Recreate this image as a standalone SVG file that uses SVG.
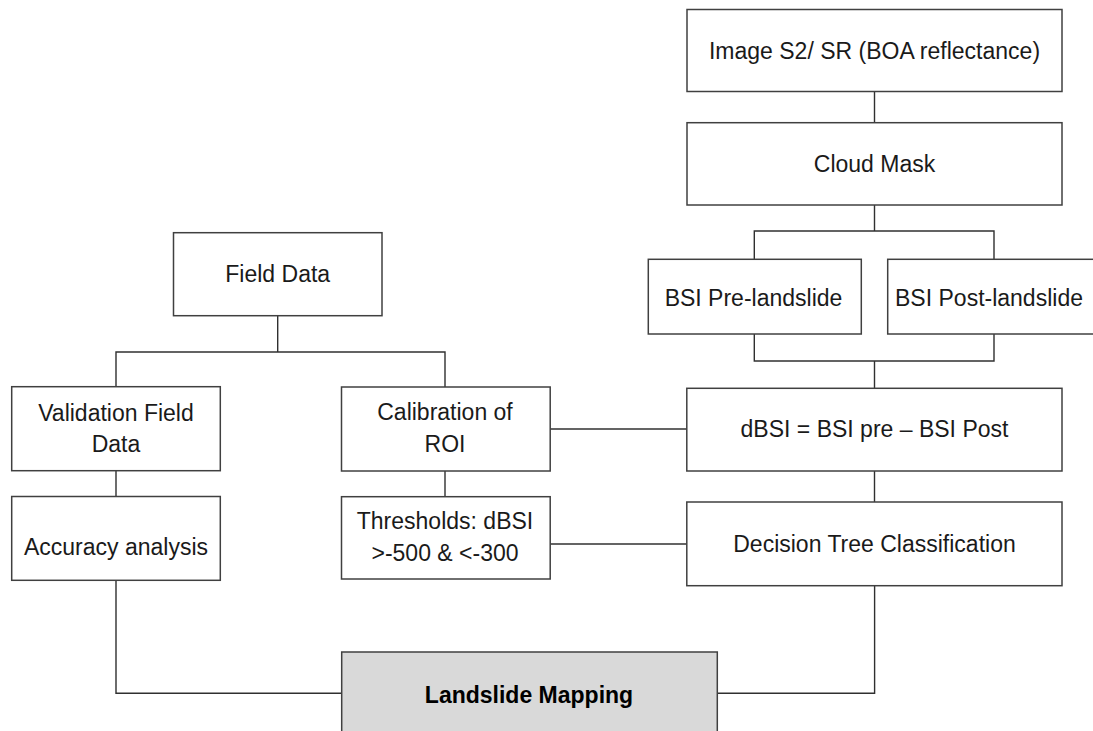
<svg xmlns="http://www.w3.org/2000/svg" width="1093" height="731" viewBox="0 0 1093 731">
<style>
.box{fill:#ffffff;stroke:#404040;stroke-width:1.5}
.hl{fill:#d9d9d9;stroke:#404040;stroke-width:1.5}
.t{font-family:"Liberation Sans",Arial,sans-serif;font-size:23px;fill:#1a1a1a;text-anchor:middle}
.b{font-weight:bold;fill:#000}
.c{fill:none;stroke:#303030;stroke-width:1.4}
</style>
<rect width="1093" height="731" fill="#ffffff"/>
<g id="connectors">
<path class="c" d="M874.5,92 V122.7"/>
<path class="c" d="M874.5,205 V231 M754.3,259.3 V231 H994 V259.3"/>
<path class="c" d="M754.3,334 V361 H994 V334 M874.5,361 V388.3"/>
<path class="c" d="M277.7,316 V352 M116,386.7 V352 H445 V387"/>
<path class="c" d="M116,471 V496.5"/>
<path class="c" d="M445,471 V496.7"/>
<path class="c" d="M550.2,429 H686.8"/>
<path class="c" d="M550.2,544 H686.8"/>
<path class="c" d="M874.5,471 V502"/>
<path class="c" d="M116,580.3 V693.3 H341.7"/>
<path class="c" d="M717.3,693.3 H874.6 V585.7"/>
</g>
<g id="image-s2">
<rect class="box" x="687" y="9.5" width="375" height="82"/>
<text class="t" x="874.5" y="59">Image S2/ SR (BOA reflectance)</text>
</g>
<g id="cloud-mask">
<rect class="box" x="687" y="122.7" width="375" height="82.3"/>
<text class="t" x="874.5" y="171.7">Cloud Mask</text>
</g>
<g id="bsi-pre">
<rect class="box" x="648.3" y="259.3" width="213" height="74.7"/>
<text class="t" x="753.5" y="305.7">BSI Pre-landslide</text>
</g>
<g id="bsi-post">
<rect class="box" x="887.7" y="259.3" width="220" height="74.7"/>
<text class="t" x="989" y="305.7">BSI Post-landslide</text>
</g>
<g id="field-data">
<rect class="box" x="173.5" y="232.7" width="208.5" height="83"/>
<text class="t" x="277.7" y="282">Field Data</text>
</g>
<g id="validation">
<rect class="box" x="11.7" y="386.7" width="208.6" height="84"/>
<text class="t" x="116" y="420.7">Validation Field</text>
<text class="t" x="116" y="451.7">Data</text>
</g>
<g id="calibration">
<rect class="box" x="341.5" y="387" width="208.7" height="84"/>
<text class="t" x="445" y="420">Calibration of</text>
<text class="t" x="445" y="451.7">ROI</text>
</g>
<g id="dbsi">
<rect class="box" x="686.8" y="388.3" width="375.2" height="82.7"/>
<text class="t" x="874.5" y="437">dBSI = BSI pre – BSI Post</text>
</g>
<g id="accuracy">
<rect class="box" x="11.7" y="496.5" width="208.6" height="83.8"/>
<text class="t" x="116" y="555">Accuracy analysis</text>
</g>
<g id="thresholds">
<rect class="box" x="341.5" y="496.7" width="208.7" height="82.3"/>
<text class="t" x="445" y="529.3">Thresholds: dBSI</text>
<text class="t" x="445" y="560.7">&gt;-500 &amp; &lt;-300</text>
</g>
<g id="decision-tree">
<rect class="box" x="686.8" y="502" width="375.2" height="83.7"/>
<text class="t" x="874.5" y="551.7">Decision Tree Classification</text>
</g>
<g id="landslide-mapping">
<rect class="hl" x="341.7" y="652" width="375.6" height="90"/>
<text class="t b" x="529" y="703">Landslide Mapping</text>
</g>
</svg>
